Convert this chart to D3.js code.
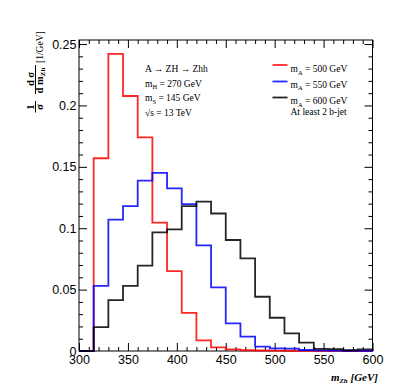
<!DOCTYPE html>
<html>
<head>
<meta charset="utf-8">
<script src="https://cdn.jsdelivr.net/npm/d3@7"></script>
<style>
  html, body { margin: 0; padding: 0; background: #fff; }
  svg { display: block; }
</style>
</head>
<body>
<svg id="chart" width="414" height="391"></svg>
<script>
// ---- data (bin low edges in GeV, bin width 15 GeV) ----
const binLow = [300,315,330,345,360,375,390,405,420,435,450,465,480,495,510,525,540,555,570,585];
const binWidth = 15;
const redVals   = [0, 0.157, 0.242, 0.2077, 0.174, 0.1045, 0.065, 0.031, 0.0086, 0.003, 0.0014, 0.0006, 0.0004, 0.0003, 0.0002, 0.0001, 0.0001, 0.0001, 0, 0];
const blueVals  = [0, 0.053, 0.107, 0.118, 0.1387, 0.145, 0.1325, 0.1197, 0.086, 0.0519, 0.0225, 0.0117, 0.0035, 0.0022, 0.002, 0.0008, 0.0005, 0.0003, 0.0002, 0.0001];
const blackVals = [0, 0.0195, 0.0415, 0.053, 0.0695, 0.0966, 0.099, 0.118, 0.1216, 0.112, 0.0904, 0.0755, 0.0442, 0.0271, 0.0144, 0.0068, 0.0017, 0.0015, 0.0006, 0.0014];
const seriesNames = ["500", "550", "600"];
const xMajorTicks = [300, 350, 400, 450, 500, 550, 600];
const yMajorTicks = [0, 0.05, 0.1, 0.15, 0.2, 0.25];
const infoLines = ["A \u2192 ZH \u2192 Zhh", "270 GeV", "145 GeV", "13 TeV"];

const svg = d3.select("#chart");
const x = d3.scaleLinear().domain([300, 600]).range([79, 372.5]);
const y = d3.scaleLinear().domain([0, 0.2533]).range([351, 40]);

const xMinor = d3.range(300, 601, 10).filter(v => v % 50 !== 0);
const yMinor = d3.range(0, 26, 1).map(v => v / 100).filter(v => Math.round(v * 100) % 5 !== 0);

const tickFont = "'Liberation Sans', Arial, Helvetica, sans-serif";
const serif = "'Liberation Serif', 'Times New Roman', Times, serif";

function styleAxis(g) {
  g.select(".domain").remove();
  g.selectAll("line").attr("stroke", "#000").attr("stroke-width", 1);
  g.selectAll("text").attr("font-family", tickFont).attr("font-size", 12.5).attr("fill", "#000");
}

// bottom
svg.append("g").attr("transform", `translate(0,${y(0)})`)
  .call(d3.axisBottom(x).tickValues(xMajorTicks).tickSize(-8).tickPadding(4.5).tickFormat(d3.format("d")))
  .call(styleAxis);
svg.append("g").attr("transform", `translate(0,${y(0)})`)
  .call(d3.axisBottom(x).tickValues(xMinor).tickSize(-4).tickFormat(""))
  .call(styleAxis);
// top
svg.append("g").attr("transform", `translate(0,${y.range()[1]})`)
  .call(d3.axisTop(x).tickValues(xMajorTicks).tickSize(-8).tickFormat(""))
  .call(styleAxis);
svg.append("g").attr("transform", `translate(0,${y.range()[1]})`)
  .call(d3.axisTop(x).tickValues(xMinor).tickSize(-4).tickFormat(""))
  .call(styleAxis);
// left
svg.append("g").attr("transform", `translate(${x(300)},0)`)
  .call(d3.axisLeft(y).tickValues(yMajorTicks).tickSize(-8).tickPadding(2.5).tickFormat(d3.format("~g")))
  .call(styleAxis);
svg.append("g").attr("transform", `translate(${x(300)},0)`)
  .call(d3.axisLeft(y).tickValues(yMinor).tickSize(-4).tickFormat(""))
  .call(styleAxis);
// right
svg.append("g").attr("transform", `translate(${x(600)},0)`)
  .call(d3.axisRight(y).tickValues(yMajorTicks).tickSize(-8).tickFormat(""))
  .call(styleAxis);
svg.append("g").attr("transform", `translate(${x(600)},0)`)
  .call(d3.axisRight(y).tickValues(yMinor).tickSize(-4).tickFormat(""))
  .call(styleAxis);

// frame
svg.append("rect")
  .attr("x", x(300)).attr("y", y.range()[1])
  .attr("width", x(600) - x(300)).attr("height", y(0) - y.range()[1])
  .attr("fill", "none").attr("stroke", "#000").attr("stroke-width", 1);

// histograms
function histPoints(vals) {
  const pts = [[binLow[0], 0]];
  vals.forEach((v, i) => {
    pts.push([binLow[i], v]);
    pts.push([binLow[i] + binWidth, v]);
  });
  pts.push([binLow[binLow.length - 1] + binWidth, 0]);
  return pts;
}
const line = d3.line().x(d => x(d[0])).y(d => y(d[1]));
const series = [
  { vals: redVals, color: "#ff0000" },
  { vals: blueVals, color: "#0000ff" },
  { vals: blackVals, color: "#000000" }
];
series.forEach(s => {
  svg.append("path")
    .attr("d", line(histPoints(s.vals)))
    .attr("fill", "none")
    .attr("stroke", s.color)
    .attr("stroke-width", 1.8)
    .attr("stroke-opacity", 0.85);
});

// info text
const info = svg.append("g").attr("font-family", serif).attr("font-size", 9.5).attr("fill", "#000");
info.append("text").attr("x", 145).attr("y", 72).text(infoLines[0]);
let t = info.append("text").attr("x", 145).attr("y", 86.5);
t.append("tspan").text("m");
t.append("tspan").attr("dy", 2.5).attr("font-size", 6.5).text("H");
t.append("tspan").attr("dy", -2.5).text(" = " + infoLines[1]);
t = info.append("text").attr("x", 145).attr("y", 101);
t.append("tspan").text("m");
t.append("tspan").attr("dy", 2.5).attr("font-size", 6.5).text("S");
t.append("tspan").attr("dy", -2.5).text(" = " + infoLines[2]);
info.append("text").attr("x", 145).attr("y", 115.5).text("\u221As  = " + infoLines[3]);

// legend
const leg = svg.append("g").attr("font-family", serif).attr("font-size", 9.5).attr("fill", "#000");
const legLineY = [65, 81.5, 97.5];
const legTextY = [72, 87.5, 104];
series.forEach((s, i) => {
  leg.append("line").attr("x1", 272.5).attr("x2", 287.5)
    .attr("y1", legLineY[i]).attr("y2", legLineY[i])
    .attr("stroke", s.color).attr("stroke-width", 1.8).attr("stroke-opacity", 0.85);
  const tx = leg.append("text").attr("x", 290.5).attr("y", legTextY[i]);
  tx.append("tspan").text("m");
  tx.append("tspan").attr("dy", 2.5).attr("font-size", 6.5).text("A");
  tx.append("tspan").attr("dy", -2.5).text(" = " + seriesNames[i] + " GeV");
});
leg.append("text").attr("x", 290.5).attr("y", 115).text("At least 2 b-jet");

// x axis title
const xt = svg.append("text").attr("x", 378).attr("y", 380.5)
  .attr("text-anchor", "end").attr("font-family", serif).attr("font-style", "italic")
  .attr("font-weight", "bold").attr("font-size", 11).attr("fill", "#000");
xt.append("tspan").text("m");
xt.append("tspan").attr("dy", 2.5).attr("font-size", 7).text("Zh");
xt.append("tspan").attr("dy", -2.5).text(" [GeV]");

// y axis title (rotated, with fractions)
const yt = svg.append("g").attr("transform", "translate(43,113) rotate(-90)")
  .attr("font-family", serif).attr("font-weight", "bold").attr("fill", "#000");
// fraction 1/sigma
yt.append("text").attr("x", 6).attr("y", -9).attr("text-anchor", "middle").attr("font-size", 10.5).text("1");
yt.append("line").attr("x1", 0.5).attr("x2", 12).attr("y1", -7.5).attr("y2", -7.5).attr("stroke", "#000").attr("stroke-width", 1);
yt.append("text").attr("x", 6).attr("y", -0.5).attr("text-anchor", "middle").attr("font-size", 11).text("\u03C3");
// fraction d sigma / d m_Zh
yt.append("text").attr("x", 34).attr("y", -9).attr("text-anchor", "middle").attr("font-size", 10.5).text("d \u03C3");
yt.append("line").attr("x1", 19).attr("x2", 48).attr("y1", -7.5).attr("y2", -7.5).attr("stroke", "#000").attr("stroke-width", 1);
const den = yt.append("text").attr("x", 19.5).attr("y", -0.5).attr("font-size", 10.5);
den.append("tspan").text("d m");
den.append("tspan").attr("dy", 2.5).attr("font-size", 7).text("Zh");
yt.append("text").attr("x", 50).attr("y", 0).attr("font-size", 9.5).attr("font-weight", "normal").text("[1/GeV]");
</script>
</body>
</html>
